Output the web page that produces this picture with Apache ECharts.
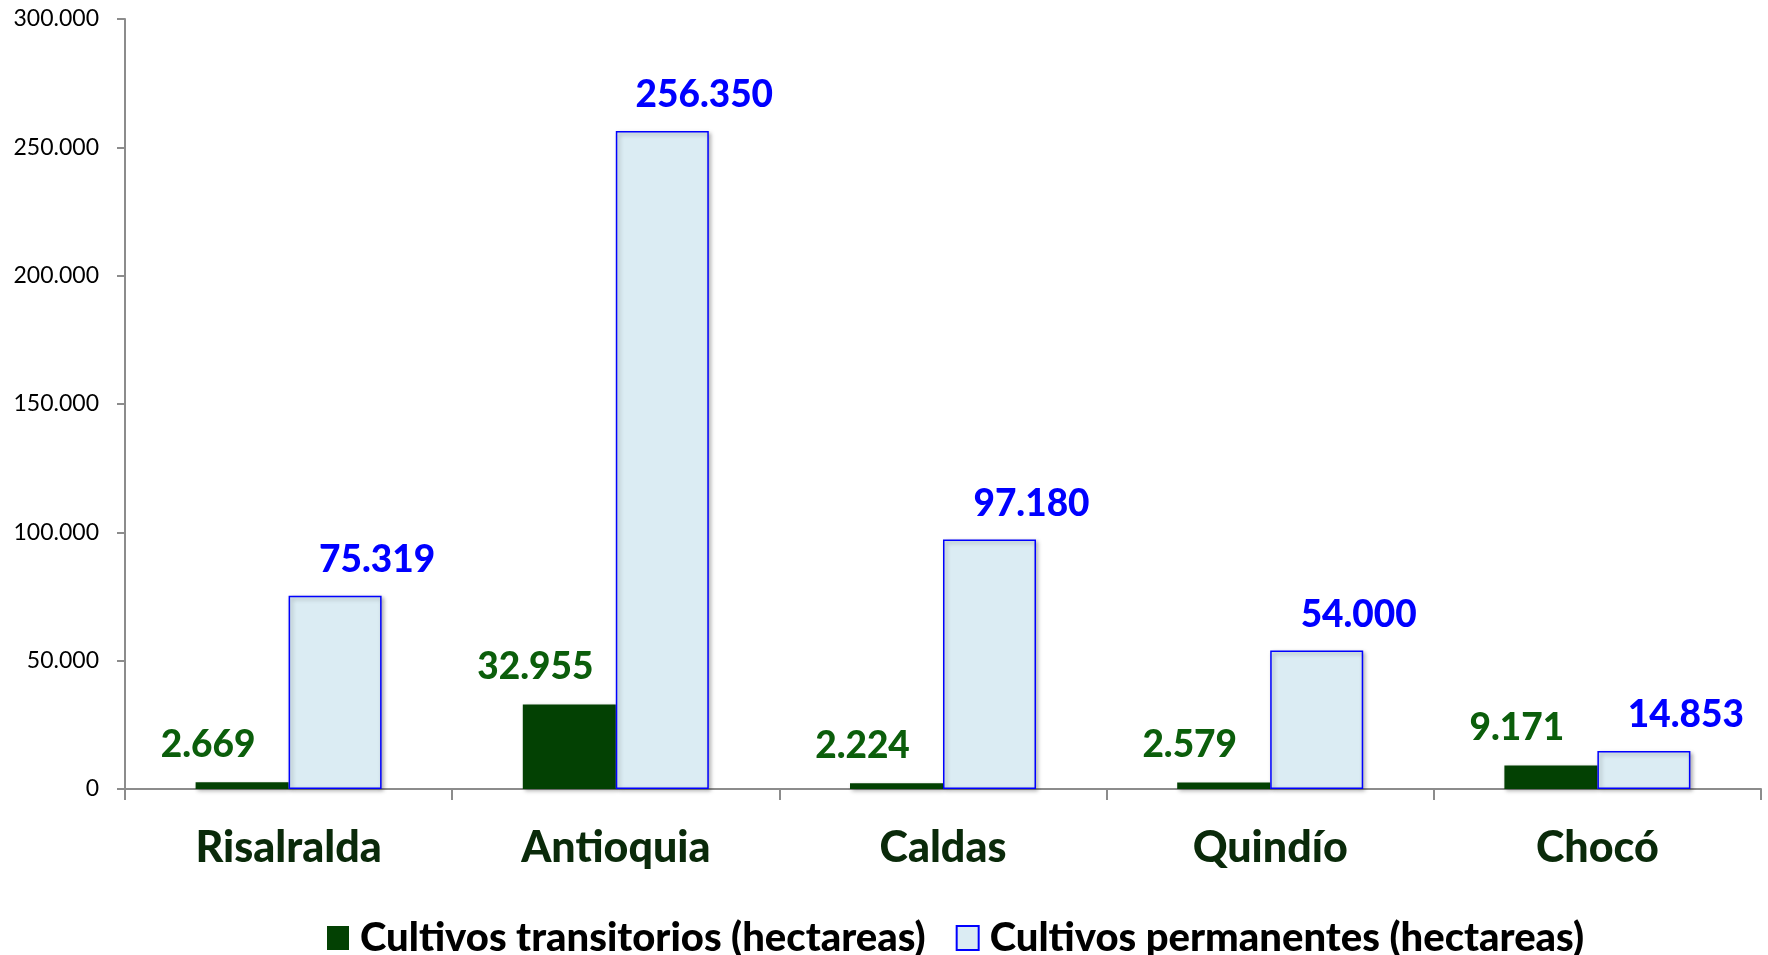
<!DOCTYPE html>
<html>
<head>
<meta charset="utf-8">
<script src="https://cdn.jsdelivr.net/npm/echarts@6/dist/echarts.min.js"></script>
<style>
  html, body { margin: 0; padding: 0; background: #fff; }
  #chart { width: 1768px; height: 955px; }
</style>
</head>
<body>
<div id="chart"></div>
<script>
const departamentos = ['Risalralda', 'Antioquia', 'Caldas', 'Quindío', 'Chocó']
const transitorios = [2669, 32955, 2224, 2579, 9171]
const permanentes = [75319, 256350, 97180, 54000, 14853]
const seriesNames = ['Cultivos transitorios (hectareas)', 'Cultivos permanentes (hectareas)']

const FONT = 'Lato, "Open Sans", sans-serif'

// 300000 -> "300.000"
const fmt = (v) => String(v).replace(/\B(?=(\d{3})+(?!\d))/g, '.')

const chart = echarts.init(document.getElementById('chart'))

chart.setOption({
  animation: false,
  textStyle: { fontFamily: FONT },
  grid: { left: 125, right: 7, top: 19, bottom: 166, containLabel: false },
  legend: {
    left: 322,
    top: 913,
    icon: 'rect',
    itemWidth: 22,
    itemHeight: 24,
    itemGap: 30,
    textStyle: { fontSize: 40, fontWeight: 900, color: '#000', fontFamily: FONT, padding: [0, 0, 0, 6] },
    data: seriesNames
  },
  xAxis: {
    type: 'category',
    data: departamentos,
    axisLine: { lineStyle: { color: '#8c8c8c', width: 2 } },
    axisTick: { show: true, length: 11, alignWithLabel: false, lineStyle: { color: '#8c8c8c', width: 2 } },
    axisLabel: { fontSize: 43, fontWeight: 900, color: '#0a2a0a', margin: 38, fontFamily: FONT }
  },
  yAxis: {
    type: 'value',
    min: 0,
    max: 300000,
    interval: 50000,
    splitLine: { show: false },
    axisLine: { show: true, lineStyle: { color: '#8c8c8c', width: 2 } },
    axisTick: { show: true, inside: false, length: 8, lineStyle: { color: '#8c8c8c', width: 2 } },
    axisLabel: { fontSize: 23, color: '#000', margin: 26, formatter: fmt, fontFamily: FONT }
  },
  series: [
    {
      name: seriesNames[0],
      type: 'bar',
      data: transitorios,
      barWidth: 93,
      barGap: '0%',
      itemStyle: {
        color: '#034103',
        shadowColor: 'rgba(0,0,0,0.3)',
        shadowBlur: 4,
        shadowOffsetX: 2,
        shadowOffsetY: 2
      },
      label: {
        show: true,
        position: 'top',
        distance: 5,
        offset: [-34, -14],
        fontSize: 37,
        fontWeight: 900,
        color: '#0b5e0b',
        fontFamily: FONT,
        formatter: (p) => fmt(p.value)
      }
    },
    {
      name: seriesNames[1],
      type: 'bar',
      data: permanentes,
      barWidth: 93,
      barGap: '0%',
      itemStyle: {
        color: '#dbecf3',
        borderColor: '#0000ff',
        borderWidth: 1.5,
        shadowColor: 'rgba(0,0,0,0.3)',
        shadowBlur: 4,
        shadowOffsetX: 2,
        shadowOffsetY: 2
      },
      label: {
        show: true,
        position: 'top',
        distance: 5,
        offset: [42, -12],
        fontSize: 37,
        fontWeight: 900,
        color: '#0000ff',
        fontFamily: FONT,
        formatter: (p) => fmt(p.value)
      }
    }
  ]
})

window.addEventListener('resize', () => chart.resize())
</script>
</body>
</html>
